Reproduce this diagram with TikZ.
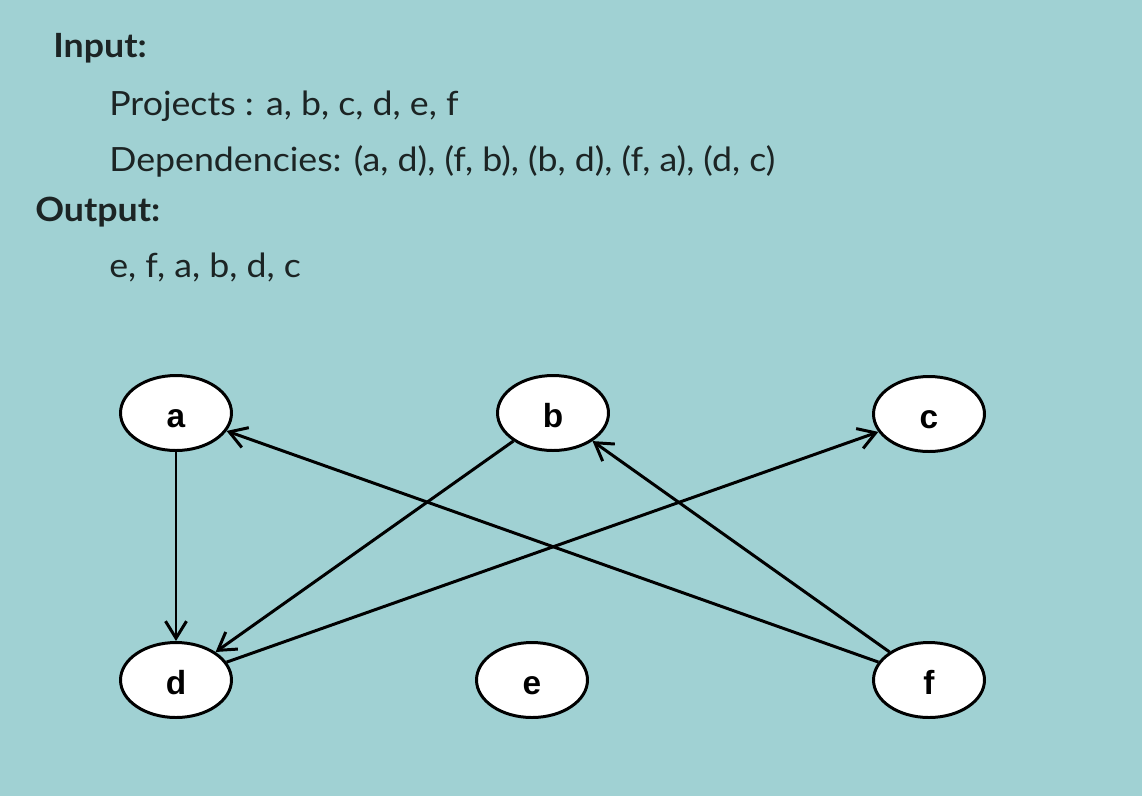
\documentclass[tikz,border=0pt]{standalone}
\usepackage{fontspec}
\setmainfont{Lato}[FakeStretch=1.07]
\newfontfamily\nodefont{Liberation Sans}
\usetikzlibrary{shapes.geometric,arrows.meta}
\definecolor{bgteal}{HTML}{A0D1D3}
\definecolor{txtdark}{HTML}{1C2424}
\begin{document}
\begin{tikzpicture}[x=0.02cm,y=-0.02cm,
  vertex/.style={ellipse,draw=black,fill=white,line width=1.7pt,
    minimum width=2.22cm,minimum height=1.5cm,inner sep=0pt,
    text height=16pt,text depth=0pt,
    font=\nodefont\bfseries\fontsize{19}{22}\selectfont},
  dep/.style={line width=1.7pt,-{Straight Barb[length=3.4mm,width=4.2mm]}},
  heading/.style={anchor=base west,inner sep=0pt,text=txtdark,
    font=\bfseries\fontsize{19}{22}\selectfont},
  body/.style={anchor=base west,inner sep=0pt,text=txtdark,
    font=\fontsize{19}{22}\selectfont}]
  % background
  \fill[bgteal] (0,0) rectangle (1142,796);
  \useasboundingbox (0,0) rectangle (1142,796);

  % problem statement
  \node[heading] (tin)  at (53,57)   {Input:};
  \node[body]    (tprj) at (109,115) {Projects : a, b, c, d, e, f};
  \node[body]    (tdep) at (109,171) {Dependencies: (a, d), (f, b), (b, d), (f, a), (d, c)};
  \node[heading] (tout) at (35,221)  {Output:};
  \node[body]    (tres) at (109,277) {e, f, a, b, d, c};

  % project graph
  \node[vertex] (a) at (176,413) {a};
  \node[vertex] (b) at (553,413) {b};
  \node[vertex] (c) at (929,414) {c};
  \node[vertex] (d) at (176,680) {d};
  \node[vertex] (e) at (532,680) {e};
  \node[vertex] (f) at (929,680) {f};

  \draw[dep] (a) -- (d);
  \draw[dep] (f) -- (b);
  \draw[dep] (b) -- (d);
  \draw[dep] (f) -- (a);
  \draw[dep] (d) -- (c);
\end{tikzpicture}
\end{document}
